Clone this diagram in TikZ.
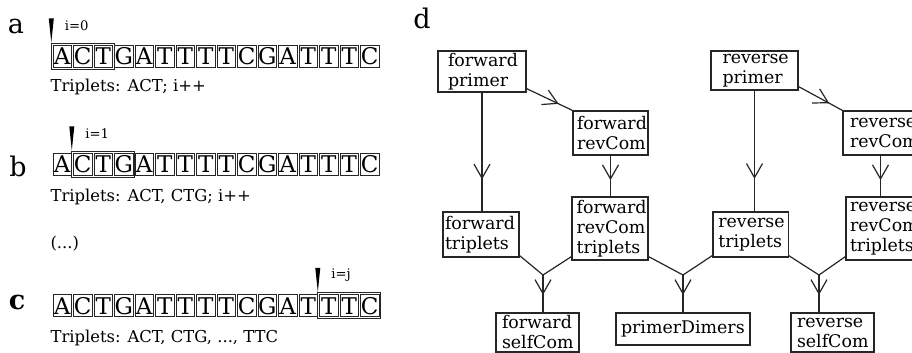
\documentclass[tikz,border=0pt]{standalone}
\usepackage{fontspec}
\setmainfont{DejaVu Serif}
\usetikzlibrary{arrows.meta, decorations.markings}

\tikzset{
  base/.style={draw, line width=0.5pt, minimum width=9.25pt, minimum height=11pt,
    inner sep=0pt, font=\fontsize{11.5}{13}\selectfont},
  pbox/.style n args={3}{draw, align=left, inner ysep=0pt, inner xsep=#1,
    text width=#2, minimum height=#3, font=\fontsize{8.7}{10}\selectfont},
  plain/.style={font=\fontsize{8.2}{10}\selectfont, inner sep=0pt},
  idx/.style={font=\fontsize{6.6}{8}\selectfont, inner sep=0pt},
  lab/.style={font=\fontsize{13.5}{15}\selectfont, inner sep=0pt},
  arrowat/.style={postaction={decorate}, decoration={markings,
    mark=at position #1 with {\arrow{Straight Barb[length=7pt,width=8pt]}}}}
}

\begin{document}
\begin{tikzpicture}[x=0.5pt, y=-0.5pt, line width=0.6pt, draw=black!85]
  \clip (0,0) rectangle (912,353);
  % Panel labels
  \node[lab] (la) at (16,26) {a};
  \node[lab] (lb) at (18,166) {b};
  \node[lab, font=\fontsize{13.5}{15}\selectfont\bfseries] (lc) at (17,302) {c};
  \node[lab] (ld) at (422,18) {d};
  % Sequences with the triplet window
  \foreach \r/\y/\w/\lab in {a/56.5/1/{i=0}, b/164.5/2/{i=1}, c/306/14/{i=j}} {
    \foreach \l [count=\i] in {A,C,T,G,A,T,T,T,T,C,G,A,T,T,T,C}
      \node[base] (\r\i) at ({62.25+20.5*(\i-1)},\y) {\l};
    \pgfmathtruncatemacro\e{\w+2}
    \coordinate (k\r) at ([shift={(-1.2,-1.5)}]\r\w.north west);
    \draw[line width=0.5pt] (k\r) rectangle ([shift={(1.2,1.5)}]\r\e.south east);
    \fill ([yshift=0.5pt]k\r) -- ++(-2.5,-24) -- ++(5,0) -- cycle;
    \node[idx, anchor=west] (i\r) at ([shift={(13,-18)}]k\r) {\lab};
  }
  \node[plain, anchor=west] (ta) at (50,87) {Triplets: ACT; i++};
  \node[plain, anchor=west] (tb) at (50,197) {Triplets: ACT, CTG; i++};
  \node[plain, anchor=west] (dots) at (50,244) {(...)};
  \node[plain, anchor=west] (tc) at (50,338) {Triplets: ACT, CTG, ..., TTC};
  % Primers and reverse complements
  \node[pbox={5pt}{34pt}{20.5pt}] (fp) at (482,71.5) {forward\\primer};
  \node[pbox={2pt}{33.5pt}{22pt}] (frc) at (610.5,133) {forward\\revCom};
  \node[pbox={5.75pt}{32pt}{19.5pt}] (rp) at (754.5,70.5) {reverse\\primer};
  \node[pbox={3.5pt}{30.5pt}{22pt}] (rrc) at (880.5,133) {reverse\\revCom};
  % Triplets
  \node[pbox={1pt}{36pt}{22.5pt}] (ft) at (481,234.5) {forward\\triplets};
  \node[pbox={2.3pt}{33.4pt}{31.5pt}] (frt) at (610,228.5) {forward\\revCom\\triplets};
  \node[pbox={2.7pt}{32.2pt}{22.5pt}] (rt) at (750.5,234.5) {reverse\\triplets};
  \node[pbox={2pt}{34pt}{31.5pt}] (rrt) at (884,228.5) {reverse\\revCom\\triplets};
  % Results
  \node[pbox={3pt}{35.5pt}{19.5pt}] (fs) at (537.5,332.5) {forward\\selfCom};
  \node[pbox={2.5pt}{62pt}{16pt}] (pd) at (683,329) {primerDimers};
  \node[pbox={3pt}{35.5pt}{19.5pt}] (rs) at (832.5,332.5) {reverse\\selfCom};
  % Connectors
  \draw[arrowat=0.73] (fp.south) -- (fp.south |- ft.north);
  \draw[arrowat=0.6] (frc.south) -- (frc.south |- frt.north);
  \draw[arrowat=0.73] (rp.south) -- (rp.south |- rt.north);
  \draw[arrowat=0.6] (rrc.south) -- (rrc.south |- rrt.north);
  \draw[arrowat=0.7] ([yshift=2pt]fp.south east) -- (frc.north west);
  \draw[arrowat=0.7] ([yshift=2pt]rp.south east) -- (rrc.north west);
  \coordinate (m1) at (543,275);
  \coordinate (m2) at (683,275);
  \coordinate (m3) at (819,275);
  \draw ([yshift=1pt]ft.south east) -- (m1) -- ([yshift=2pt]frt.south west);
  \draw ([yshift=2pt]frt.south east) -- (m2) -- ([yshift=1pt]rt.south west);
  \draw ([yshift=1pt]rt.south east) -- (m3) -- ([yshift=2pt]rrt.south west);
  \draw[arrowat=0.53] (m1) -- (m1 |- fs.north);
  \draw[arrowat=0.53] (m2) -- (m2 |- pd.north);
  \draw[arrowat=0.53] (m3) -- (m3 |- rs.north);
\end{tikzpicture}
\end{document}
